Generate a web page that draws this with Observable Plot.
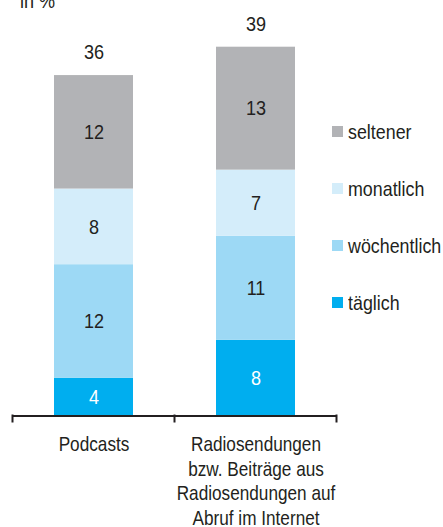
<!DOCTYPE html>
<html>
<head>
<meta charset="utf-8">
<script src="https://cdn.jsdelivr.net/npm/d3@7"></script>
<script src="https://cdn.jsdelivr.net/npm/@observablehq/plot@0.6"></script>
<style>
  html, body { margin: 0; padding: 0; background: #fff; }
  body { width: 443px; height: 527px; overflow: hidden; position: relative;
         font-family: "Liberation Sans Narrow", "Arial Narrow", "Liberation Sans", sans-serif; color: #231f20; }
  #title { position: absolute; left: 20px; top: -10px; font-size: 21px; line-height: 21px;
           transform: scaleX(0.86); transform-origin: left center; }
  #legend { position: absolute; left: 332px; top: 103px; }
  .item { height: 57px; display: flex; align-items: center; font-size: 21px; white-space: nowrap; }
  .sw { width: 11px; height: 11px; margin-right: 5px; flex: none; }
  .item span { display: inline-block; transform: scaleX(0.85); transform-origin: left center; }
  #chart svg { display: block; }
</style>
</head>
<body>
<div id="chart"></div>
<div id="title">in %</div>
<div id="legend"></div>
<script>
const categories = ["Podcasts", "Radio"];
const categoryLabels = ["Podcasts", "Radiosendungen\nbzw. Beiträge aus\nRadiosendungen auf\nAbruf im Internet"];
const series = ["täglich", "wöchentlich", "monatlich", "seltener"];
const colors = ["#00aeef", "#9dd9f5", "#d4edfa", "#b2b3b6"];
const podcastValues = [4, 12, 8, 12];
const radioValues = [8, 11, 7, 13];
const totals = [36, 39];

const rows = [];
series.forEach((s, i) => {
  rows.push({cat: categories[0], series: s, value: podcastValues[i]});
  rows.push({cat: categories[1], series: s, value: radioValues[i]});
});
const totalRows = categories.map((c, i) => ({cat: c, total: totals[i]}));
const labelRows = categories.map((c, i) => ({cat: c, label: categoryLabels[i]}));

const font = "'Liberation Sans Narrow', 'Arial Narrow', 'Liberation Sans', sans-serif";
const ink = "#231f20";

const chart = Plot.plot({
  width: 443,
  height: 527,
  marginLeft: 12,
  marginRight: 106,
  marginTop: 46.7,
  marginBottom: 111.5,
  style: {fontFamily: font, color: ink, background: "white"},
  x: {type: "band", domain: categories, paddingInner: 0.51, paddingOuter: 0.255, axis: null},
  y: {domain: [0, 39], axis: null},
  color: {domain: series, range: colors},
  marks: [
    Plot.barY(rows, {x: "cat", y: "value", fill: "series", order: series}),
    Plot.text(rows, Plot.stackY({x: "cat", y: "value", z: "series", order: series, text: d => d.series === "täglich" ? String(d.value) : "", fill: "white", fontSize: 21})),
    Plot.text(rows, Plot.stackY({x: "cat", y: "value", z: "series", order: series, text: d => d.series !== "täglich" ? String(d.value) : "", fill: ink, fontSize: 21})),
    Plot.text(totalRows, {x: "cat", y: "total", text: d => String(d.total), dy: -23, fill: ink, fontSize: 21}),
    Plot.ruleY([0], {stroke: ink, strokeWidth: 2}),
    Plot.text(labelRows, {x: "cat", text: "label", frameAnchor: "bottom", lineAnchor: "top", dy: 18, lineHeight: 1.22, fill: ink, fontSize: 20})
  ]
});
document.getElementById("chart").appendChild(chart);

// condense text horizontally (no narrow font installed)
d3.select(chart).selectAll("text").each(function () {
  const t = this.getAttribute("transform");
  if (t) this.setAttribute("transform", t + " scale(0.86,1)");
});

// tick marks at band boundaries, positioned through the x scale
const xs = chart.scale("x");
const ys = chart.scale("y");
const step = xs.step, bw = xs.bandwidth;
const pos = v => xs.apply(v);
const bounds = categories.map(c => pos(c) - (step - bw) / 2);
bounds.push(pos(categories[categories.length - 1]) + bw + (step - bw) / 2);
const y0 = ys.apply(0);
d3.select(chart).append("g").selectAll("line").data(bounds).join("line")
  .attr("x1", d => d).attr("x2", d => d)
  .attr("y1", y0 - 1).attr("y2", y0 + 7)
  .attr("stroke", ink).attr("stroke-width", 2);

// legend
const legend = d3.select("#legend");
series.slice().reverse().forEach(s => {
  const it = legend.append("div").attr("class", "item");
  it.append("div").attr("class", "sw").style("background", colors[series.indexOf(s)]);
  it.append("span").text(s);
});
</script>
</body>
</html>
